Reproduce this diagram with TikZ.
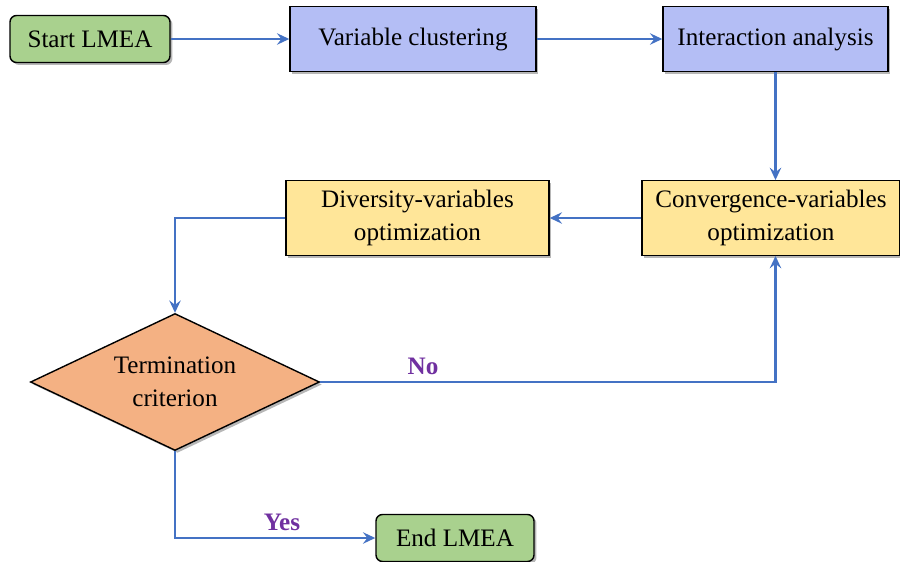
\documentclass[tikz,border=0pt]{standalone}
\usepackage{fontspec}
\setmainfont{Liberation Serif}
\usepackage{tikz}
\usetikzlibrary{arrows.meta,shapes}
\usetikzlibrary{shadows}
\usetikzlibrary{calc}
\definecolor{startgreen}{HTML}{A9D18E}
\definecolor{stepblue}{HTML}{B4BEF5}
\definecolor{optyellow}{HTML}{FFE699}
\definecolor{termorange}{HTML}{F4B183}
\definecolor{flowblue}{HTML}{4472C4}
\definecolor{labelpurple}{HTML}{7030A0}
\tikzset{
    boxshadow/.style={drop shadow={shadow xshift=1.4pt, shadow yshift=-1.4pt, opacity=0.4, fill=black!70}},
    terminal/.style={draw=black, line width=0.8pt, rounded corners=0.13cm, fill=startgreen,
        minimum width=3.2cm, minimum height=0.94cm, boxshadow, align=center},
    stepbox/.style={draw=black, line width=0.8pt, fill=stepblue, minimum height=1.3cm,
        boxshadow, align=center},
    optbox/.style={draw=black, line width=0.8pt, fill=optyellow, minimum height=1.49cm,
        boxshadow, align=center},
    decision/.style={diamond, aspect=2.1, draw=black, line width=0.8pt, fill=termorange, inner sep=0pt,
        minimum width=5.78cm, minimum height=2.74cm, boxshadow, align=center},
    flow/.style={draw=flowblue, line width=1.3pt, -{Stealth[length=7pt,width=6.5pt,inset=2.5pt]}},
    answer/.style={text=labelpurple, font=\fontsize{14.3}{19}\selectfont\bfseries}
}

\begin{document}
\begin{tikzpicture}[font=\fontsize{14.3}{18.5}\selectfont]
	\useasboundingbox (0,0) rectangle (18,-11.22);
	% top row
	\node[terminal] (start) at (1.8,-0.78) {Start LMEA};
	\node[stepbox, minimum width=4.92cm] (clust) at (8.26,-0.78) {Variable clustering};
	\node[stepbox, minimum width=4.5cm] (inter) at (15.51,-0.78) {Interaction analysis};
	% optimization row
	\node[optbox, minimum width=5.16cm] (conv) at (15.42,-4.36) {Convergence-variables\\optimization};
	\node[optbox, minimum width=5.26cm] (div) at (8.35,-4.36) {Diversity-variables\\optimization};
	% decision and end
	\node[decision] (term) at (3.5,-7.64) {Termination\\criterion};
	\node[terminal, minimum width=3.16cm] (end) at (9.1,-10.76) {End LMEA};
	\coordinate (convin) at (inter.south |- conv.north);
	\coordinate (convback) at (inter.south |- conv.south);
	\draw[flow] (start) -- (clust);
	\draw[flow] (clust) -- (inter);
	\draw[flow] (inter.south) -- (convin);
	\draw[flow] (conv) -- (div);
	\draw[flow] (div.west) -| (term.north);
	\draw[flow] (term.east) -| (convback);
	\draw[flow] (term.south) |- (end.west);
	\node[answer] at (8.46,-7.32) {No};
	\node[answer] at (5.64,-10.44) {Yes};
\end{tikzpicture}
\end{document}
